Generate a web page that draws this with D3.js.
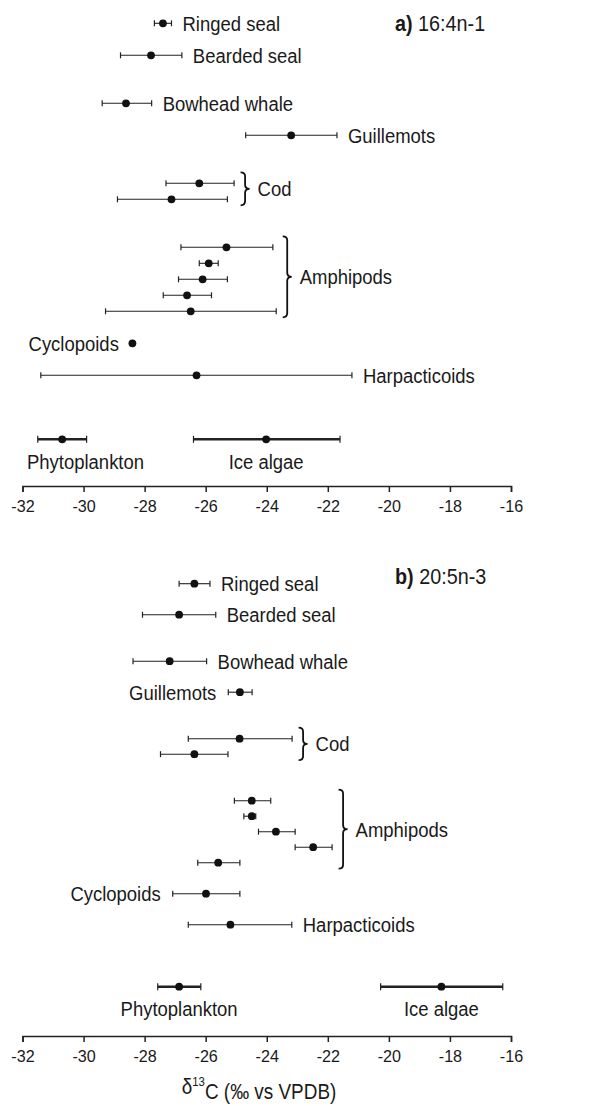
<!DOCTYPE html>
<html lang="en">
  <head>
    <meta charset="utf-8" />
    <script src="https://cdn.jsdelivr.net/npm/d3@7/dist/d3.min.js"></script>
    <title>d13C of fatty acids</title>
    <style>
      body { margin: 0; background: #fff; }
      text { font-family: "Liberation Sans", Arial, sans-serif; fill: #1a1a1a; }
    </style>
  </head>
  <body>
    <div id="container"></div>

    <script>
      const width = 614;
      const height = 1106;

      // groups, one entry per error bar (row = vertical slot, gaps included)
      const names = ["Ringed seal", "Bearded seal", "Bowhead whale", "Guillemots", "Cod", "Cod",
        "Amphipods", "Amphipods", "Amphipods", "Amphipods", "Amphipods",
        "Cyclopoids", "Harpacticoids", "Phytoplankton", "Ice algae"];
      const rows = [0, 2, 5, 7, 10, 11, 14, 15, 16, 17, 18, 20, 22, 26, 26];

      // a) 16:4n-1
      const meanA = [-27.40, -27.79, -28.61, -23.20, -26.21, -27.12, -25.32, -25.90, -26.10, -26.61, -26.49, -28.40, -26.30, -30.70, -24.02];
      const lowA = [-27.68, -28.79, -29.39, -24.69, -27.30, -28.89, -26.81, -26.21, -26.89, -27.39, -29.28, -28.45, -31.40, -31.50, -26.40];
      const highA = [-27.12, -26.78, -27.77, -21.70, -25.07, -25.29, -23.80, -25.59, -25.29, -25.81, -23.69, -28.35, -21.21, -29.90, -21.60];

      // b) 20:5n-3
      const meanB = [-26.37, -26.87, -27.18, -24.88, -24.89, -26.37, -24.49, -24.49, -23.70, -22.48, -25.59, -25.99, -25.19, -26.87, -18.28];
      const lowB = [-26.87, -28.07, -28.38, -25.26, -26.57, -27.48, -25.06, -24.75, -24.27, -23.07, -26.26, -27.08, -26.57, -27.57, -20.27];
      const highB = [-25.86, -25.67, -25.97, -24.48, -23.17, -25.27, -23.87, -24.36, -23.07, -21.86, -24.88, -24.88, -23.18, -26.16, -16.27];

      const xTicks = [-32, -30, -28, -26, -24, -22, -20, -18, -16];
      const sources = ["Phytoplankton", "Ice algae"];
      const bracketed = ["Cod", "Amphipods"];

      const x = d3.scaleLinear().domain([-32, -16]).range([22.5, 511]);
      const sx = 0.88; // the original lettering is a little condensed

      const svg = d3.select("#container").append("svg").attr("width", width).attr("height", height);

      function label(g, px, py, str, anchor, size) {
        return g.append("text")
          .attr("transform", `translate(${px},${py}) scale(${sx},1)`)
          .attr("dy", "0.35em")
          .attr("text-anchor", anchor || "start")
          .attr("font-size", size || 21)
          .text(str);
      }

      function panel(cfg) {
        const g = svg.append("g");
        const y = d3.scaleLinear().domain([0, 26]).range([cfg.top, cfg.top + 26 * cfg.step]);
        const data = names.map((n, i) => ({ name: n, row: rows[i], mean: cfg.mean[i], lo: cfg.low[i], hi: cfg.high[i] }));

        // error bars
        const bars = g.selectAll("g.bar").data(data).join("g").attr("class", "bar");
        bars.each(function (d) {
          const b = d3.select(this);
          const thick = sources.includes(d.name);
          const sw = thick ? 2.6 : 1.1;
          const ch = thick ? 3.5 : 3;
          const yy = y(d.row);
          b.append("line").attr("x1", x(d.lo)).attr("x2", x(d.hi)).attr("y1", yy).attr("y2", yy)
            .attr("stroke", "#222").attr("stroke-width", sw);
          [d.lo, d.hi].forEach((v) => {
            b.append("line").attr("x1", x(v)).attr("x2", x(v)).attr("y1", yy - ch).attr("y2", yy + ch)
              .attr("stroke", "#222").attr("stroke-width", 1.2);
          });
          b.append("circle").attr("cx", x(d.mean)).attr("cy", yy).attr("r", 3.9).attr("fill", "#111");
        });

        // single labels
        data.forEach((d) => {
          if (bracketed.includes(d.name)) return;
          const yy = y(d.row);
          if (sources.includes(d.name)) {
            const t = label(g, 0, yy + 22, d.name);
            const w = t.node().getComputedTextLength() * sx;
            t.attr("transform", `translate(${Math.max(x(d.mean) - w / 2, 27)},${yy + 22}) scale(${sx},1)`);
          } else if (cfg.left.includes(d.name)) {
            label(g, x(d.lo) - 12, yy, d.name, "end");
          } else {
            label(g, x(d.hi) + 11, yy, d.name);
          }
        });

        // braces
        bracketed.forEach((name) => {
          const sub = data.filter((d) => d.name === name);
          const bx = x(d3.max(sub, (d) => d.hi)) + 6.5;
          const y0 = y(d3.min(sub, (d) => d.row)) - 11;
          const y1 = y(d3.max(sub, (d) => d.row)) + 6;
          const ym = (y0 + y1) / 2;
          const w = 9, r = 4, mx = bx + w / 2;
          const p = `M${bx},${y0} Q${mx},${y0} ${mx},${y0 + r} L${mx},${ym - r} Q${mx},${ym} ${bx + w},${ym}` +
            ` Q${mx},${ym} ${mx},${ym + r} L${mx},${y1 - r} Q${mx},${y1} ${bx},${y1}`;
          g.append("path").attr("d", p).attr("fill", "none").attr("stroke", "#111").attr("stroke-width", 1.8);
          label(g, bx + w + 8, ym, name);
        });

        // axis
        const axis = g.append("g").attr("transform", `translate(0,${cfg.axisY})`)
          .call(d3.axisBottom(x).tickValues(xTicks).tickSize(6).tickPadding(8).tickFormat((d) => String(d)));
        axis.select(".domain").attr("stroke", "#222").attr("stroke-width", 1.5);
        axis.selectAll(".tick line").attr("stroke", "#222").attr("stroke-width", 1.5);
        axis.selectAll(".tick text").attr("font-size", 17).attr("font-family", "Liberation Sans, Arial, sans-serif")
          .attr("fill", "#1a1a1a").attr("transform", "scale(0.95,1)");

        // panel title
        const title = label(g, 395, cfg.titleY, "", "start", 22).attr("transform", `translate(395,${cfg.titleY}) scale(0.9,1)`);
        title.append("tspan").attr("font-weight", "bold").text(cfg.tag + " ");
        title.append("tspan").text(cfg.fa);
      }

      panel({ mean: meanA, low: lowA, high: highA, top: 23.3, step: 16, axisY: 486, titleY: 23.5, tag: "a)", fa: "16:4n-1", left: ["Cyclopoids"] });
      panel({ mean: meanB, low: lowB, high: highB, top: 583.7, step: 15.5, axisY: 1036, titleY: 576, tag: "b)", fa: "20:5n-3", left: ["Cyclopoids", "Guillemots"] });

      // x axis title
      const xt = label(svg, 259, 1086, "", "middle", 21.5);
      xt.append("tspan").text("δ");
      xt.append("tspan").attr("font-size", 13).attr("dy", "-0.6em").text("13");
      xt.append("tspan").attr("dy", "0.6em").text("C (‰ vs VPDB)");
    </script>
  </body>
</html>
